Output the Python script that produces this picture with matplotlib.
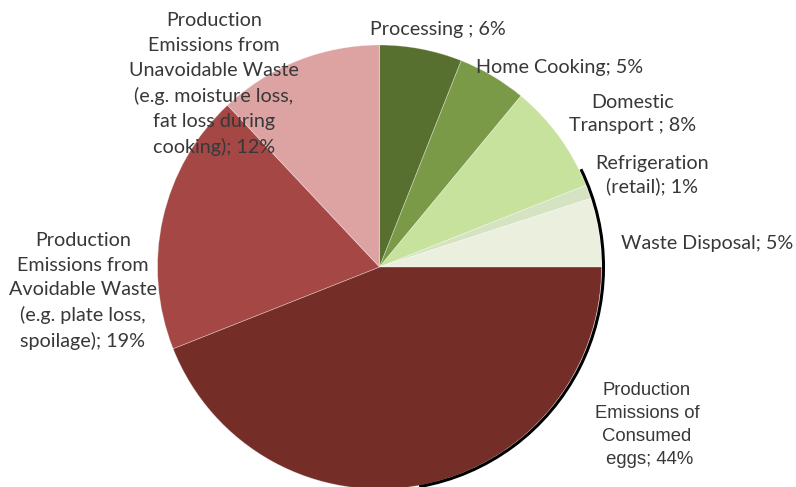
import matplotlib
matplotlib.use("Agg")
import matplotlib.pyplot as plt
from matplotlib.patches import Arc

labels = ["Processing ; 6%", "Home Cooking; 5%", "Domestic\nTransport ; 8%",
          "Refrigeration\n(retail); 1%", "Waste Disposal; 5%",
          "Production\nEmissions of\nConsumed\n eggs; 44%",
          "Production\nEmissions from\nAvoidable Waste\n(e.g. plate loss,\nspoilage); 19%",
          "Production\nEmissions from\nUnavoidable Waste\n(e.g. moisture loss,\nfat loss during\ncooking); 12%"]
values = [6, 5, 8, 1, 5, 44, 19, 12]
colors = ["#58702f", "#7b9a48", "#c6e29c", "#d6e3c2", "#ebefdd",
          "#742d27", "#a44745", "#dda3a2"]
label_pos = [(438, 29), (560, 68), (633, 114), (652, 175), (707, 243),
             (647, 425), (83, 291), (214, 84)]
line_spacing = [1.2, 1.2, 1.4, 1.4, 1.2, 1.48, 1.52, 1.55]

W, H = 796, 487
fig = plt.figure(figsize=(W / 100, H / 100), dpi=100)
ax = fig.add_axes([0, 0, 1, 1])

cx, cy, r = 379.5, H - 267, 222
ax.pie(values, colors=colors, startangle=90, counterclock=False,
       center=(cx, cy), radius=r, frame=True,
       wedgeprops=dict(linewidth=0.6, edgecolor=(1, 1, 1, 0.35)))
ax.set_xlim(0, W)
ax.set_ylim(0, H)
ax.set_aspect("equal")
ax.axis("off")

# dark shadow edge on the right side
ax.add_patch(Arc((cx + 1, cy), 2 * r + 2, 2 * r + 2, theta1=-80, theta2=26,
                 color="black", lw=2.2, zorder=5))

for i, (lab, (x, y)) in enumerate(zip(labels, label_pos)):
    if i == 5:
        fam, fs = ["Liberation Sans", "DejaVu Sans"], 13.3
    else:
        fam, fs = ["Lato", "DejaVu Sans"], 14.2
    ax.text(x, H - y, lab, ha="center", va="center", fontsize=fs,
            color="#383838", family=fam, linespacing=line_spacing[i], zorder=6)

fig.savefig("out.png", dpi=100)
